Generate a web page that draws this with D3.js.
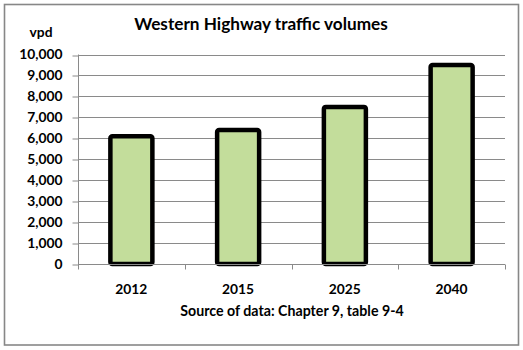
<!DOCTYPE html>
<html>
<head>
<meta charset="utf-8">
<script src="https://cdn.jsdelivr.net/npm/d3@7"></script>
<style>
  html, body { margin: 0; padding: 0; background: #fff; }
  svg { display: block; }
  text { font-family: Lato, "Open Sans", sans-serif; font-weight: bold; fill: #000; }
</style>
</head>
<body>
<svg id="chart" width="523" height="350"></svg>
<script>
const categories = ["2012", "2015", "2025", "2040"];
const values = [6100, 6400, 7500, 9500];
const yTicks = [0, 1000, 2000, 3000, 4000, 5000, 6000, 7000, 8000, 9000, 10000];
const titleText = "Western Highway traffic volumes";
const yUnit = "vpd";
const sourceText = "Source of data: Chapter 9, table 9-4";

const svg = d3.select("#chart");

// outer border
svg.append("rect")
  .attr("x", 4.5).attr("y", 4.5).attr("width", 514).attr("height", 340.5)
  .attr("fill", "#fff").attr("stroke", "#878787").attr("stroke-width", 1.6);

const plotLeft = 78, plotRight = 505, plotTop = 54.5, plotBottom = 264;
const x = d3.scaleBand().domain(categories).range([plotLeft, plotRight]).padding(0);
const y = d3.scaleLinear().domain([0, 10000]).range([plotBottom, plotTop]);

const gridColor = "#8a8a8a";

// gridlines
svg.append("g").selectAll("line").data(yTicks.filter(d => d > 0)).join("line")
  .attr("x1", plotLeft).attr("x2", plotRight)
  .attr("y1", d => Math.round(y(d)) + 0.5).attr("y2", d => Math.round(y(d)) + 0.5)
  .attr("stroke", gridColor).attr("stroke-width", 1);

// y axis
const yAxis = svg.append("g").attr("transform", `translate(${plotLeft + 0.5},0)`)
  .call(d3.axisLeft(y).tickValues(yTicks).tickFormat(d3.format(",")).tickSize(6).tickPadding(10));
yAxis.select(".domain").attr("stroke", gridColor).attr("d", `M0,${plotTop}V${plotBottom + 5}`);
yAxis.selectAll(".tick line").attr("stroke", gridColor)
  .attr("transform", d => `translate(0,${Math.round(y(d)) + 0.5 - y(d)})`);
yAxis.selectAll(".tick text")
  .attr("font-family", "Lato, sans-serif").attr("font-weight", "bold")
  .attr("font-size", 13.8).attr("fill", "#000").attr("x", -16);

// bars
const barW = 42;
svg.append("g").selectAll("rect").data(values).join("rect")
  .attr("x", (d, i) => x(categories[i]) + x.bandwidth() / 2 - barW / 2)
  .attr("y", d => y(d))
  .attr("width", barW)
  .attr("height", d => y(0) - y(d))
  .attr("rx", 2).attr("ry", 2)
  .attr("fill", "#c3dd9b")
  .attr("stroke", "#000").attr("stroke-width", 4.5);

// x axis
const xAxisG = svg.append("g").attr("transform", `translate(0,${plotBottom + 0.5})`);
xAxisG.append("line").attr("x1", plotLeft).attr("x2", plotRight).attr("stroke", gridColor).attr("stroke-width", 1);
const boundaries = categories.map(c => x(c)).concat([plotRight]);
xAxisG.selectAll("line.tk").data(boundaries).join("line").attr("class", "tk")
  .attr("x1", d => Math.round(d) + 0.5).attr("x2", d => Math.round(d) + 0.5)
  .attr("y1", 0).attr("y2", 5).attr("stroke", gridColor);
xAxisG.selectAll("text").data(categories).join("text")
  .attr("x", d => x(d) + x.bandwidth() / 2)
  .attr("y", 29.5)
  .attr("text-anchor", "middle")
  .attr("font-size", 13.8)
  .text(d => d);

// title
svg.append("text").attr("x", 261).attr("y", 30)
  .attr("text-anchor", "middle").attr("font-size", 17.2).text(titleText);

// unit label
svg.append("text").attr("x", 41).attr("y", 37)
  .attr("text-anchor", "middle").attr("font-size", 13.8).text(yUnit);

// source
svg.append("text").attr("x", 292).attr("y", 316)
  .attr("text-anchor", "middle").attr("font-size", 14.2).text(sourceText);
</script>
</body>
</html>
